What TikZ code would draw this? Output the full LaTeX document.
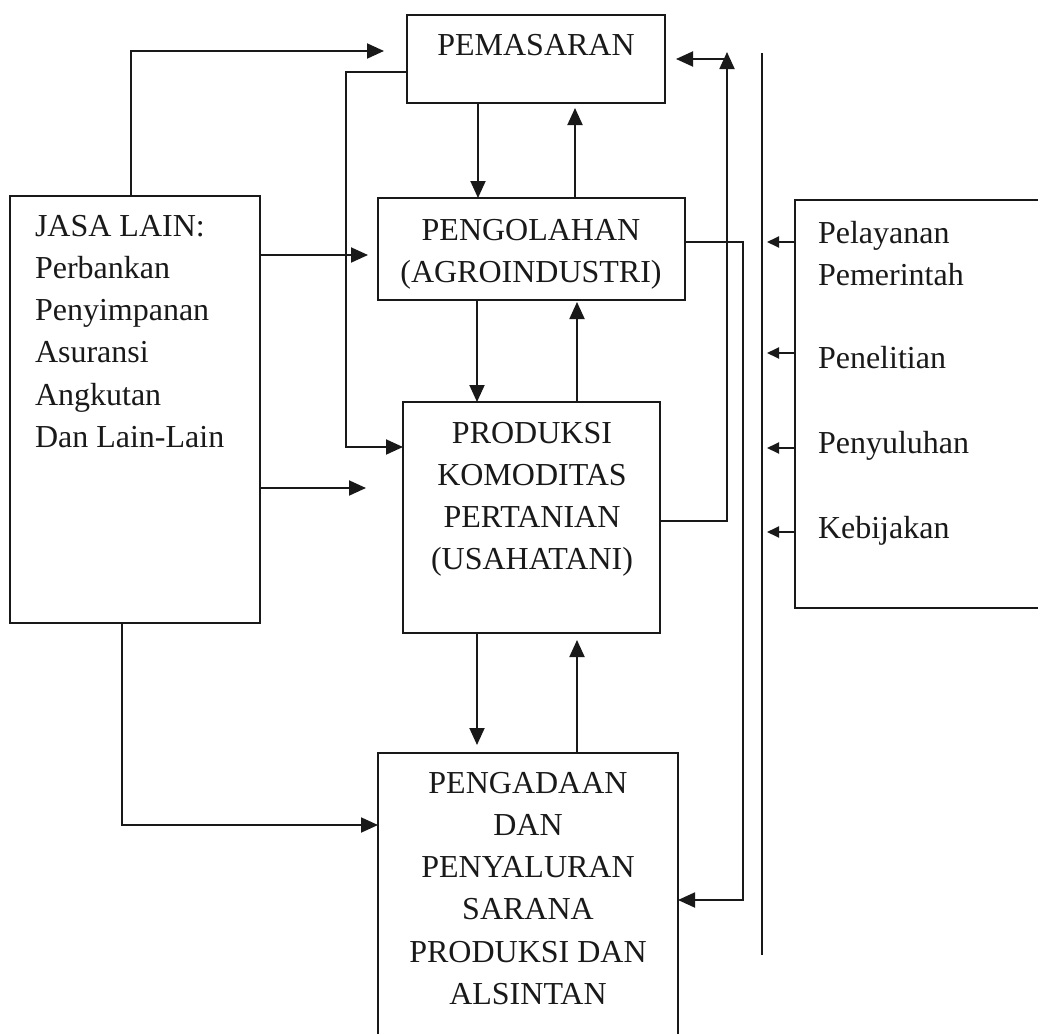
\documentclass[tikz,border=0pt]{standalone}
\usepackage{fontspec}
\setmainfont{Liberation Serif}
\usetikzlibrary{arrows.meta}
\begin{document}
\begin{tikzpicture}[x=1pt,y=-1pt,
  line width=1.9pt, draw=black!90,
  box/.style={draw, rectangle, inner sep=0pt, outer sep=0pt},
  txt/.style={font=\fontsize{32}{42.3}\selectfont, inner sep=0pt, outer sep=0pt, text=black!90},
  arr/.style={-{Triangle[length=17pt,width=15pt]}},
  sarr/.style={-{Triangle[length=12pt,width=11pt]}}]
\useasboundingbox (0,0) rectangle (1038,1033);
\clip (0,0) rectangle (1038,1033);

% boxes
\node[box, minimum width=258pt, minimum height=88pt]  (pem)  at (536,59) {};
\node[box, minimum width=307pt, minimum height=102pt] (peng) at (531.5,249) {};
\node[box, minimum width=257pt, minimum height=231pt] (prod) at (531.5,517.5) {};
\node[box, minimum width=300pt, minimum height=292pt] (pad)  at (528,899) {};
\node[box, minimum width=250pt, minimum height=427pt] (jasa) at (135,409.5) {};
\node[box, minimum width=255pt, minimum height=408pt] (rbox) at (922.5,404) {};

% texts
\node[txt, anchor=base] (pemt) at (536,56) {PEMASARAN};
\node[txt, anchor=base] (pengt) at (531,240) {\begin{tabular}[t]{@{}c@{}}PENGOLAHAN\\(AGROINDUSTRI)\end{tabular}};
\node[txt, anchor=base] (prodt) at (532,443) {\begin{tabular}[t]{@{}c@{}}PRODUKSI\\KOMODITAS\\PERTANIAN\\(USAHATANI)\end{tabular}};
\node[txt, anchor=base] (padt) at (528,793) {\begin{tabular}[t]{@{}c@{}}PENGADAAN\\DAN\\PENYALURAN\\SARANA\\PRODUKSI DAN\\ALSINTAN\end{tabular}};
\node[txt, anchor=base west] (jasat) at (35,236) {\begin{tabular}[t]{@{}l@{}}JASA LAIN:\\Perbankan\\Penyimpanan\\Asuransi\\Angkutan\\Dan Lain-Lain\end{tabular}};
\node[txt, anchor=base west] (r1t) at (818,243) {\begin{tabular}[t]{@{}l@{}}Pelayanan\\Pemerintah\end{tabular}};
\node[txt, anchor=base west] (r2t) at (818,368) {Penelitian};
\node[txt, anchor=base west] (r3t) at (818,453) {Penyuluhan};
\node[txt, anchor=base west] (r4t) at (818,538) {Kebijakan};

% coordinates
\coordinate (pemin) at (384,51);
\coordinate (a3) at (368,255);
\coordinate (a4) at (366,488);
\coordinate (a5) at (378,825);
\coordinate (d1) at (478,0);
\coordinate (u1t) at (575,108);
\coordinate (d2) at (477,0);
\coordinate (u2t) at (577,302);
\coordinate (d3t) at (477,745);
\coordinate (u3t) at (577,640);
\coordinate (k9) at (727,521);
\coordinate (r1) at (727,52);
\coordinate (r1b) at (727,59);
\coordinate (pemR) at (676,59);
\coordinate (k10) at (743,242);
\coordinate (k10b) at (743,900);
\coordinate (vtop) at (762,53);
\coordinate (vbot) at (762,955);
\coordinate (s1) at (767,242);
\coordinate (s2) at (767,353);
\coordinate (s3) at (767,448);
\coordinate (s4) at (767,532);

% connectors from JASA LAIN
\draw[arr] ([xshift=-4pt]jasa.north) |- (pemin);
\draw[arr] (jasa.east |- a3) -- (a3);
\draw[arr] (jasa.east |- a4) -- (a4);
\draw[arr] ([xshift=-13pt]jasa.south) |- (pad.west |- a5);

% PEMASARAN loop to PRODUKSI
\draw[arr] ([yshift=-13pt]pem.west) -- ++(-61,0) |- ([yshift=70.5pt]prod.west);

% vertical chain
\draw[arr] (pem.south -| d1) -- (peng.north -| d1);
\draw[arr] (peng.north -| u1t) -- (u1t);
\draw[arr] (peng.south -| d2) -- (prod.north -| d2);
\draw[arr] (prod.north -| u2t) -- (u2t);
\draw[arr] (prod.south -| d3t) -- (d3t);
\draw[arr] (pad.north -| u3t) -- (u3t);

% right-side loops
\draw[arr] (prod.east |- k9) -- (k9) -- (r1);
\draw[arr] (r1b) -- (pemR);
\draw[arr] (peng.east |- k10) -- (k10) -- (k10b) -- (pad.east |- k10b);

% vertical line and right arrows
\draw (vtop) -- (vbot);
\draw[sarr] (rbox.west |- s1) -- (s1);
\draw[sarr] (rbox.west |- s2) -- (s2);
\draw[sarr] (rbox.west |- s3) -- (s3);
\draw[sarr] (rbox.west |- s4) -- (s4);
\end{tikzpicture}
\end{document}
